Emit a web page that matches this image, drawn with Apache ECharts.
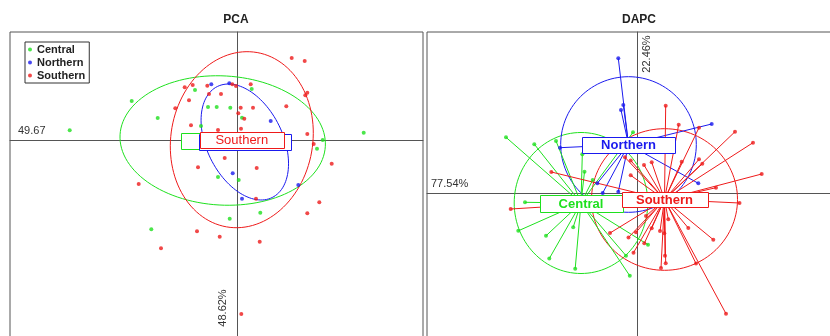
<!DOCTYPE html>
<html>
<head>
<meta charset="utf-8">
<title>PCA / DAPC</title>
<script src="https://cdn.jsdelivr.net/npm/echarts@6/dist/echarts.min.js"></script>
<style>html,body{margin:0;padding:0;background:#fff}#main{width:830px;height:336px}</style>
</head>
<body>
<div id="main"></div>
<script>
var groups = ['Central', 'Northern', 'Southern'];
var colors = ['#1ee01e', '#1a1aee', '#ee1a1a'];

// PCA scores, axis 1 / axis 2
var pcaCentral = [[-167.3,9.7],[-105.3,39],[-79.3,22],[-42,50],[-29,33],[-20.3,33],[-6.7,32.3],[14.7,51],[5,22.3],[-36,14],
  [85.7,0],[80,-8.7],[126.7,7.3],[-19,-37],[1.7,-40],[23.3,-72.7],[-7.3,-78.7],[-85.7,-89.3]];
var pcaNorthern = [[-25.7,55.7],[-7.7,56.7],[33.7,19],[-4.3,-33.3],[5,-58.7],[61.3,-45]];
var pcaSouthern = [[54.7,82],[67.7,79],[70.3,47.3],[68.3,44.7],[-52.3,52.7],[-44.3,55],[-29.7,54.3],[-4.7,55.7],[-1,54],[13.7,55.7],
  [-16,46],[-28,46],[-48,39.7],[-61.7,31.7],[3.7,32.3],[16,32.3],[49.3,33.7],[1.3,26.7],[7.3,21.3],[-46,14.7],
  [-19,10],[4,11.3],[70.3,6],[76.7,-4],[94.7,-23.7],[-12.3,-18],[-39,-27.3],[19.7,-28],[-98.3,-44],[19,-58.7],
  [82.3,-62.3],[70.3,-73.3],[-40,-91.3],[-17.3,-96.7],[22.7,-101.7],[-76,-108.3],[4.3,-174]];
var pcaCentroids = [[-14.3,-0.5],[7.8,-2],[4.8,0.3]];
// inertia ellipses: [rx, ry, angle in degrees]
var pcaEllipses = [[102.8,64.6,-3.2],[38,61.9,26.3],[70.9,88.5,-10]];

// DAPC scores, LD1 / LD2
var dapcCentral = [[-131,55.7],[-102.7,48.8],[-81,52],[-54.7,38.7],[-52.5,21.3],[-44.3,13],[-4,60.7],[-112,-9.3],
  [-118.7,-37.8],[-91,-42.8],[-63.8,-34.2],[-87.7,-65.5],[-61.8,-75.7],[-11,-62.7],[-7.2,-82.8],[11,-51.7]];
var dapcNorthern = [[-18.7,134.7],[-13.7,88],[-16,83],[-77,45.3],[74.7,69],[61.3,9.7],[-39.7,9.7],[-34.3,0],[-18.7,1.3]];
var dapcSouthern = [[28.7,87.3],[41.7,68.3],[62,65.3],[98,61.3],[116,50.3],[124.7,19],[79,5.3],[102.5,-10],
  [-12,35.7],[-6.3,32.5],[7,28],[14.7,30.7],[44.7,31.3],[62,33.7],[65.3,29.2],[-6.3,17.7],[-85.7,21],[-126.3,-16],
  [9,-23],[31.3,-26.3],[14.7,-35.3],[51.3,-35],[23,-38],[27.3,-40.3],[-1,-39.3],[-8.5,-44.5],[-27,-40],[7.3,-50.3],
  [76.3,-46.7],[-3.5,-59.7],[28,-62.7],[28.7,-70.3],[59,-70.5],[24,-75],[89,-120.7]];
var dapcCentroids = [[-56,-10],[-8.5,48.5],[27.5,-6.5]];
var dapcEllipses = [[66.8,70.5,0],[67.8,67.8,0],[73,70.8,0]];

var pcaPoints = [pcaCentral, pcaNorthern, pcaSouthern];
var dapcPoints = [dapcCentral, dapcNorthern, dapcSouthern];

var chart = echarts.init(document.getElementById('main'));
var FONT = '"Liberation Sans", sans-serif';

function ellipseRender(centroids, shapes) {
  return function (params, api) {
    var i = params.dataIndex, c = centroids[i], s = shapes[i];
    var a = s[2] * Math.PI / 180, pts = [];
    for (var k = 0; k < 120; k++) {
      var t = k / 120 * 2 * Math.PI;
      var ex = s[0] * Math.cos(t), ey = s[1] * Math.sin(t);
      pts.push(api.coord([c[0] + ex * Math.cos(a) - ey * Math.sin(a), c[1] + ex * Math.sin(a) + ey * Math.cos(a)]));
    }
    return { type: 'polygon', shape: { points: pts }, style: { fill: 'none', stroke: colors[i], lineWidth: 1 } };
  };
}

function labelRender(centroids, sizes, font) {
  return function (params, api) {
    var i = params.dataIndex, p = api.coord(centroids[i]);
    var w = sizes[i][0], h = sizes[i][1];
    return {
      type: 'group',
      children: [
        { type: 'rect', shape: { x: Math.round(p[0] - w / 2) + 0.5, y: Math.round(p[1] - h / 2) + 0.5, width: w, height: h },
          style: { fill: '#fff', stroke: colors[i], lineWidth: 1 } },
        { type: 'text', x: p[0], y: p[1] + 1,
          style: { text: groups[i], fill: colors[i], font: font, textAlign: 'center', textVerticalAlign: 'middle', align: 'center', verticalAlign: 'middle' } }
      ]
    };
  };
}

var series = [];
var centroidData = function (c) { return c.map(function (p) { return p.slice(); }); };

series.push({ type: 'custom', name: 'pca-ellipses', xAxisIndex: 0, yAxisIndex: 0, z: 1, silent: true,
  data: centroidData(pcaCentroids), encode: { x: 0, y: 1 }, renderItem: ellipseRender(pcaCentroids, pcaEllipses) });
groups.forEach(function (g, i) {
  series.push({ type: 'scatter', name: g, xAxisIndex: 0, yAxisIndex: 0, z: 3, silent: true,
    symbolSize: 4, itemStyle: { color: colors[i] }, data: pcaPoints[i] });
});
series.push({ type: 'custom', name: 'pca-labels', xAxisIndex: 0, yAxisIndex: 0, z: 5, silent: true,
  data: centroidData(pcaCentroids), encode: { x: 0, y: 1 },
  renderItem: labelRender(pcaCentroids, [[84, 16], [92, 16], [84, 16]], '13px "Liberation Sans", sans-serif') });

series.push({ type: 'custom', name: 'dapc-ellipses', xAxisIndex: 1, yAxisIndex: 1, z: 1, silent: true,
  data: centroidData(dapcCentroids), encode: { x: 0, y: 1 }, renderItem: ellipseRender(dapcCentroids, dapcEllipses) });
var starData = [];
groups.forEach(function (g, i) {
  dapcPoints[i].forEach(function (p) { starData.push([p[0], p[1], i]); });
});
series.push({ type: 'custom', name: 'dapc-stars', xAxisIndex: 1, yAxisIndex: 1, z: 2, silent: true,
  data: starData, encode: { x: 0, y: 1 },
  renderItem: function (params, api) {
    var g = api.value(2), a = api.coord([api.value(0), api.value(1)]), b = api.coord(dapcCentroids[g]);
    return { type: 'line', shape: { x1: a[0], y1: a[1], x2: b[0], y2: b[1] }, style: { stroke: colors[g], lineWidth: 1 } };
  } });
groups.forEach(function (g, i) {
  series.push({ type: 'scatter', name: g + ' (DAPC)', xAxisIndex: 1, yAxisIndex: 1, z: 3, silent: true,
    symbolSize: 4, itemStyle: { color: colors[i] }, data: dapcPoints[i] });
});
series.push({ type: 'custom', name: 'dapc-labels', xAxisIndex: 1, yAxisIndex: 1, z: 5, silent: true,
  data: centroidData(dapcCentroids), encode: { x: 0, y: 1 },
  renderItem: labelRender(dapcCentroids, [[83, 17], [93, 16], [86, 15]], 'bold 13px "Liberation Sans", sans-serif') });

function axisBase(grid, min, max) {
  return { type: 'value', gridIndex: grid, min: min, max: max,
    axisLine: { show: true, onZero: true, lineStyle: { color: '#555', width: 1 } },
    axisTick: { show: false }, axisLabel: { show: false }, splitLine: { show: false } };
}

chart.setOption({
  animation: false,
  grid: [
    { left: 10, top: 32, width: 413, height: 320, show: true, borderColor: '#555', borderWidth: 1, outerBoundsMode: 'none' },
    { left: 427, top: 32, width: 410, height: 320, show: true, borderColor: '#555', borderWidth: 1, outerBoundsMode: 'none' }
  ],
  xAxis: [axisBase(0, -227, 186), axisBase(1, -210, 200)],
  yAxis: [axisBase(0, -212, 108), axisBase(1, -159, 161)],
  legend: {
    data: groups, orient: 'vertical', left: 25, top: 42, selectedMode: false,
    padding: [1, 4, 1, 3], itemGap: 0, itemWidth: 4, itemHeight: 4, icon: 'circle',
    borderColor: '#333', borderWidth: 1,
    textStyle: { fontFamily: FONT, fontWeight: 'bold', fontSize: 11, color: '#222', lineHeight: 13 }
  },
  graphic: [
    { type: 'text', x: 236, y: 20, style: { text: 'PCA', font: 'bold 12px ' + FONT, fill: '#222', textAlign: 'center', textVerticalAlign: 'middle', align: 'center', verticalAlign: 'middle' } },
    { type: 'text', x: 639, y: 20, style: { text: 'DAPC', font: 'bold 12px ' + FONT, fill: '#222', textAlign: 'center', textVerticalAlign: 'middle', align: 'center', verticalAlign: 'middle' } },
    { type: 'text', x: 18, y: 131, style: { text: '49.67', font: '11px "Liberation Sans", sans-serif', fill: '#333', textVerticalAlign: 'middle', verticalAlign: 'middle' } },
    { type: 'text', x: 223, y: 308, rotation: Math.PI / 2, style: { text: '48.62%', font: '11px "Liberation Sans", sans-serif', fill: '#333', textAlign: 'center', textVerticalAlign: 'middle', align: 'center', verticalAlign: 'middle' } },
    { type: 'text', x: 431, y: 184, style: { text: '77.54%', font: '11px "Liberation Sans", sans-serif', fill: '#333', textVerticalAlign: 'middle', verticalAlign: 'middle' } },
    { type: 'text', x: 647, y: 54, rotation: Math.PI / 2, style: { text: '22.46%', font: '11px "Liberation Sans", sans-serif', fill: '#333', textAlign: 'center', textVerticalAlign: 'middle', align: 'center', verticalAlign: 'middle' } }
  ],
  series: series
});
</script>
</body>
</html>
